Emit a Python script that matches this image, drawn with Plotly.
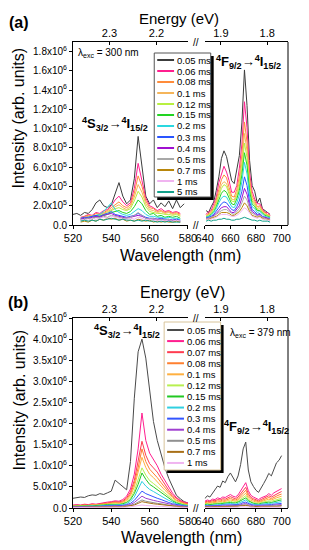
import plotly.graph_objects as go

# ---------------- data (intensities in units of 1e5 counts) ----------------
UNIT = 1e5
HC = 1239.84  # eV*nm, energy <-> wavelength

A_WL_LEFT = list(range(520, 579, 2))   # 520..578
A_WL_RIGHT = list(range(641, 692, 2))  # 641..691
B_WL_LEFT = list(range(520, 581, 2))   # 520..580
B_WL_RIGHT = list(range(640, 701, 2))  # 640..700

A_DELAYS = ["0.05 ms", "0.06 ms", "0.08 ms", "0.1 ms", "0.12 ms", "0.15 ms", "0.2 ms",
            "0.3 ms", "0.4 ms", "0.5 ms", "0.7 ms", "1 ms", "5 ms"]
B_DELAYS = ["0.05 ms", "0.06 ms", "0.07 ms", "0.08 ms", "0.1 ms", "0.12 ms", "0.15 ms",
            "0.2 ms", "0.3 ms", "0.4 ms", "0.5 ms", "0.7 ms", "1 ms"]

# panel (a), 4S3/2 -> 4I15/2 region
A_L_005 = [1.1, 1.2, 1.0, 1.3, 1.2, 1.6, 2.3, 2.6, 2.0, 1.8, 2.1, 3.3, 4.4, 3.0, 2.2, 2.6, 4.8, 9.2, 6.0, 3.0, 2.2, 2.6, 1.8, 2.3, 1.9, 2.5, 1.7, 2.6, 1.8, 2.2]
A_L_006 = [None, None, 0.8, 0.9, 1.1, 1.0, 1.3, 1.2, 1.5, 1.6, 2.0, 2.6, 3.0, 2.4, 2.0, 2.3, 3.8, 6.4, 4.6, 2.8, 2.0, 1.8, 1.5, 1.7, 1.4, 1.5, 1.3, 1.4, 1.2, None]
A_L_008 = [None, None, 0.7, 0.9, 1.0, 0.9, 1.2, 1.1, 1.3, 1.5, 1.8, 2.1, 2.4, 2.0, 1.8, 2.1, 3.3, 5.1, 4.0, 2.5, 1.8, 1.7, 1.4, 1.5, 1.3, 1.4, 1.2, 1.3, 1.1, None]
A_L_01 = [None, None, 0.7, 0.8, 0.9, 1.0, 1.0, 1.1, 1.2, 1.4, 1.6, 1.9, 2.1, 1.8, 1.6, 1.9, 2.9, 4.2, 3.4, 2.2, 1.6, 1.5, 1.3, 1.4, 1.2, 1.3, 1.1, 1.2, 1.0, None]
A_L_012 = [None, None, 0.6, 0.7, 0.8, 0.9, 0.9, 1.0, 1.1, 1.3, 1.5, 1.7, 1.8, 1.6, 1.5, 1.7, 2.5, 3.5, 2.9, 1.9, 1.4, 1.3, 1.2, 1.2, 1.1, 1.1, 1.0, 1.1, 0.9, None]
A_L_015 = [None, None, 0.5, 0.6, 0.7, 0.7, 0.8, 0.9, 1.0, 1.1, 1.3, 1.4, 1.5, 1.3, 1.2, 1.4, 1.9, 2.6, 2.2, 1.5, 1.1, 1.2, 0.9, 1.0, 0.8, 0.9, 0.8, 0.9, 0.7, None]
A_L_02 = [None, None, 0.6, 0.7, 0.8, 0.9, 1.0, 1.1, 1.4, 1.9, 2.3, 1.6, 1.3, 1.1, 1.0, 1.1, 1.4, 1.7, 1.5, 1.1, 0.9, 0.9, 0.8, 0.8, 0.7, 0.8, 0.7, 0.7, 0.6, None]
A_L_03 = [None, None, 0.7, 0.8, 0.8, 0.9, 1.0, 0.9, 1.1, 1.2, 1.4, 1.1, 1.0, 0.9, 0.8, 0.9, 1.0, 1.2, 1.0, 0.8, 0.7, 0.7, 0.6, 0.7, 0.6, 0.6, 0.5, 0.6, 0.5, None]
A_L_04 = [None, None, 0.6, 0.7, 0.7, 0.8, 0.9, 0.8, 1.0, 1.1, 1.2, 1.0, 0.9, 0.8, 0.7, 0.8, 0.9, 1.0, 0.9, 0.7, 0.6, 0.6, 0.6, 0.6, 0.5, 0.5, 0.5, 0.5, 0.4, None]
A_L_05 = [None, None, 0.5, 0.6, 0.7, 0.6, 0.8, 0.7, 0.9, 0.8, 1.0, 0.9, 0.8, 0.7, 0.7, 0.8, 1.0, 1.3, 1.0, 0.7, 0.6, 0.7, 0.5, 0.6, 0.5, 0.6, 0.4, 0.5, 0.4, None]
A_L_07 = [None, None, 0.3, 0.4, 0.3, 0.5, 0.4, 0.6, 0.5, 0.7, 0.6, 0.7, 0.5, 0.6, 0.4, 0.5, 0.4, 0.6, 0.5, 0.4, 0.5, 0.3, 0.4, 0.3, 0.4, 0.3, 0.3, 0.4, 0.3, None]
A_L_1 = [None, None, 0.5, 0.6, 0.5, 0.7, 0.6, 0.7, 0.8, 0.7, 0.9, 0.8, 0.7, 0.6, 0.6, 0.7, 0.6, 0.8, 0.7, 0.5, 0.6, 0.5, 0.5, 0.4, 0.5, 0.4, 0.4, 0.5, 0.4, None]
A_L_5 = [None, None, 0.4, 0.5, 0.4, 0.5, 0.4, 0.6, 0.5, 0.6, 0.7, 0.6, 0.5, 0.6, 0.5, 0.5, 0.4, 0.5, 0.4, 0.5, 0.4, 0.4, 0.3, 0.4, 0.3, 0.4, 0.3, 0.3, 0.3, None]

# panel (a), 4F9/2 -> 4I15/2 region
A_R_005 = [1.5, 1.3, 1.9, 2.4, 3.6, 5.0, 6.9, 7.7, 7.1, 5.8, 4.6, 4.3, 5.6, 7.2, 10.6, 16.1, 12.4, 6.7, 4.1, 3.5, 2.3, 2.8, 1.7, 1.5, 1.3, 1.1]
A_R_006 = [1.1, 1.4, 1.5, 2.2, 2.9, 4.4, 5.3, 6.1, 5.5, 4.6, 3.4, 3.4, 4.1, 5.9, 8.4, 12.8, 10.1, 5.4, 3.5, 2.7, 2.2, 2.2, 1.7, 1.3, 1.3, 1.0]
A_R_008 = [1.0, 1.2, 1.4, 1.8, 2.6, 3.7, 4.7, 5.2, 4.9, 3.9, 3.0, 2.9, 3.7, 5.0, 7.3, 10.7, 8.6, 4.8, 3.0, 2.5, 1.9, 2.0, 1.5, 1.3, 1.1, 1.0]
A_R_01 = [0.9, 1.1, 1.3, 1.7, 2.3, 3.3, 4.2, 4.5, 4.3, 3.5, 2.7, 2.6, 3.3, 4.5, 6.5, 9.5, 7.7, 4.3, 2.7, 2.3, 1.7, 1.9, 1.4, 1.2, 1.0, 0.9]
A_R_012 = [0.9, 1.0, 1.2, 1.6, 2.1, 3.0, 3.8, 4.2, 4.0, 3.2, 2.5, 2.4, 3.0, 4.0, 5.9, 8.5, 7.0, 3.9, 2.5, 2.1, 1.6, 1.7, 1.3, 1.1, 1.0, 0.9]
A_R_015 = [0.8, 0.9, 1.1, 1.4, 1.9, 2.6, 3.3, 3.6, 3.4, 2.8, 2.2, 2.1, 2.7, 3.6, 5.2, 7.5, 6.2, 3.5, 2.2, 1.9, 1.5, 1.5, 1.2, 1.0, 0.9, 0.8]
A_R_02 = [0.8, 0.9, 1.0, 1.3, 1.7, 2.3, 2.8, 3.0, 2.9, 2.4, 1.9, 1.8, 2.3, 3.1, 4.5, 6.5, 5.3, 3.0, 1.9, 1.7, 1.3, 1.4, 1.1, 0.9, 0.8, 0.8]
A_R_03 = [0.7, 0.8, 0.9, 1.1, 1.4, 1.8, 2.2, 2.4, 2.3, 1.9, 1.6, 1.5, 1.9, 2.5, 3.5, 5.0, 4.1, 2.4, 1.6, 1.4, 1.1, 1.2, 0.9, 0.8, 0.7, 0.7]
A_R_04 = [0.7, 0.7, 0.8, 1.0, 1.2, 1.5, 1.8, 1.9, 1.9, 1.6, 1.3, 1.3, 1.6, 2.0, 2.8, 3.8, 3.2, 2.0, 1.4, 1.2, 1.0, 1.1, 0.8, 0.8, 0.7, 0.6]
A_R_05 = [0.6, 0.7, 0.8, 0.9, 1.1, 1.3, 1.5, 1.6, 1.6, 1.4, 1.2, 1.1, 1.4, 1.7, 2.3, 3.0, 2.6, 1.7, 1.2, 1.1, 0.9, 1.0, 0.8, 0.7, 0.6, 0.6]
A_R_07 = [0.6, 0.6, 0.7, 0.8, 0.9, 1.1, 1.3, 1.3, 1.3, 1.2, 1.0, 1.0, 1.2, 1.4, 1.8, 2.3, 2.0, 1.4, 1.0, 0.9, 0.8, 0.9, 0.7, 0.6, 0.6, 0.5]
A_R_1 = [0.6, 0.6, 0.6, 0.7, 0.8, 1.0, 1.1, 1.1, 1.1, 1.0, 0.9, 0.9, 1.0, 1.2, 1.5, 1.8, 1.6, 1.2, 0.9, 0.8, 0.7, 0.8, 0.6, 0.6, 0.5, 0.5]
A_R_5 = [0.4, 0.5, 0.4, 0.5, 0.5, 0.6, 0.6, 0.7, 0.6, 0.6, 0.5, 0.5, 0.6, 0.6, 0.7, 0.8, 0.7, 0.6, 0.5, 0.5, 0.4, 0.5, 0.4, 0.4, 0.4, 0.3]

# panel (b), 4S3/2 -> 4I15/2 region
B_L_005 = [2.3, 2.4, 2.6, 2.5, 2.9, 3.1, 3.0, 3.4, 3.2, 3.6, 4.0, 6.6, 5.8, 5.2, 4.3, 11.0, 26.0, 37.0, 40.0, 35.5, 27.5, 20.5, 16.0, 12.5, 9.5, 7.0, 5.0, 3.0, 2.2, 1.5, 1.2]
B_L_006 = [0.7, 0.8, 0.7, 0.9, 0.8, 1.0, 0.9, 1.1, 1.2, 1.4, 1.5, 1.7, 1.6, 2.0, 2.8, 4.5, 8.0, 14.0, 22.5, 16.0, 13.0, 11.5, 10.0, 8.0, 6.5, 5.0, 3.5, 2.5, 1.8, 1.4, 1.2]
B_L_007 = [0.6, 0.7, 0.6, 0.8, 0.7, 0.9, 0.8, 1.0, 1.1, 1.2, 1.3, 1.5, 1.4, 1.7, 2.4, 3.8, 6.5, 11.0, 15.8, 12.5, 10.5, 9.5, 8.5, 7.0, 5.5, 4.2, 3.0, 2.2, 1.6, 1.2, 1.0]
B_L_008 = [0.5, 0.6, 0.6, 0.7, 0.6, 0.8, 0.7, 0.9, 1.0, 1.1, 1.2, 1.3, 1.2, 1.5, 2.1, 3.3, 5.8, 9.5, 14.0, 11.0, 9.2, 8.3, 7.2, 6.0, 4.8, 3.7, 2.7, 1.9, 1.4, 1.1, 0.9]
B_L_01 = [0.5, 0.5, 0.6, 0.6, 0.6, 0.7, 0.7, 0.8, 0.9, 1.0, 1.1, 1.2, 1.1, 1.3, 1.8, 2.9, 5.0, 8.2, 12.0, 9.6, 8.0, 7.2, 6.3, 5.2, 4.2, 3.2, 2.4, 1.7, 1.3, 1.0, 0.8]
B_L_012 = [0.4, 0.5, 0.5, 0.5, 0.6, 0.6, 0.6, 0.7, 0.8, 0.9, 1.0, 1.0, 0.9, 1.1, 1.5, 2.3, 4.0, 6.5, 9.5, 7.8, 6.5, 5.8, 5.0, 4.2, 3.4, 2.6, 2.0, 1.4, 1.1, 0.8, 0.7]
B_L_015 = [0.4, 0.4, 0.4, 0.5, 0.5, 0.5, 0.6, 0.6, 0.7, 0.8, 0.8, 0.9, 0.8, 1.0, 1.3, 2.0, 3.4, 5.6, 8.3, 6.8, 5.6, 5.0, 4.3, 3.6, 2.9, 2.2, 1.7, 1.2, 0.9, 0.7, 0.6]
B_L_02 = [0.3, 0.4, 0.3, 0.4, 0.4, 0.5, 0.4, 0.5, 0.6, 0.6, 0.7, 0.7, 0.7, 0.8, 1.0, 1.6, 2.6, 4.3, 6.3, 5.2, 4.4, 3.9, 3.3, 2.8, 2.3, 1.8, 1.4, 1.0, 0.8, 0.6, 0.5]
B_L_03 = [0.3, 0.3, 0.3, 0.3, 0.4, 0.4, 0.4, 0.4, 0.5, 0.5, 0.5, 0.6, 0.5, 0.6, 0.8, 1.1, 1.8, 2.9, 4.0, 3.4, 3.0, 2.7, 2.3, 2.0, 1.6, 1.3, 1.0, 0.8, 0.6, 0.5, 0.4]
B_L_04 = [0.2, 0.3, 0.2, 0.3, 0.3, 0.3, 0.3, 0.4, 0.3, 0.4, 0.4, 0.5, 0.4, 0.5, 0.6, 0.8, 1.3, 2.0, 2.8, 2.3, 2.0, 1.8, 1.6, 1.4, 1.1, 0.9, 0.7, 0.6, 0.5, 0.4, 0.3]
B_L_05 = [0.2, 0.2, 0.2, 0.2, 0.3, 0.2, 0.3, 0.3, 0.3, 0.3, 0.3, 0.4, 0.3, 0.4, 0.5, 0.6, 0.9, 1.4, 1.9, 1.6, 1.4, 1.3, 1.1, 1.0, 0.8, 0.6, 0.5, 0.4, 0.3, 0.3, 0.2]
B_L_07 = [0.1, 0.2, 0.1, 0.2, 0.2, 0.2, 0.2, 0.2, 0.2, 0.3, 0.2, 0.3, 0.3, 0.3, 0.4, 0.5, 0.7, 1.1, 1.5, 1.3, 1.1, 1.0, 0.9, 0.8, 0.6, 0.5, 0.4, 0.3, 0.3, 0.2, 0.2]
B_L_1 = [0.1, 0.1, 0.1, 0.1, 0.1, 0.1, 0.1, 0.2, 0.1, 0.2, 0.2, 0.2, 0.2, 0.2, 0.2, 0.3, 0.4, 0.5, 0.7, 0.6, 0.5, 0.5, 0.4, 0.4, 0.3, 0.3, 0.2, 0.2, 0.2, 0.1, 0.1]

# panel (b), 4F9/2 -> 4I15/2 region
B_R_005 = [2.2, 2.9, 2.6, 3.5, 4.4, 5.2, 4.9, 6.4, 6.0, 7.4, 8.3, 7.1, 6.2, 7.6, 10.3, 14.0, 15.6, 9.0, 6.2, 5.1, 4.2, 3.7, 4.9, 5.8, 6.9, 8.2, 7.6, 9.4, 10.7, 11.3, 12.4]
B_R_006 = [1.6, 1.9, 1.7, 2.1, 2.0, 2.4, 2.2, 2.6, 2.5, 2.9, 3.2, 2.8, 2.6, 3.1, 4.0, 5.2, 6.0, 4.1, 3.0, 2.6, 2.2, 2.0, 2.4, 2.7, 2.9, 3.4, 3.0, 3.6, 3.9, 4.3, 4.6]
B_R_007 = [1.4, 1.6, 1.5, 1.8, 1.7, 2.0, 1.9, 2.2, 2.1, 2.5, 2.7, 2.4, 2.2, 2.6, 3.4, 4.3, 4.9, 3.4, 2.5, 2.2, 1.9, 1.7, 2.0, 2.3, 2.5, 2.9, 2.6, 3.0, 3.3, 3.6, 3.9]
B_R_008 = [1.2, 1.4, 1.3, 1.5, 1.5, 1.7, 1.6, 1.9, 1.8, 2.1, 2.3, 2.0, 1.9, 2.2, 2.9, 3.7, 4.2, 2.9, 2.2, 1.9, 1.6, 1.5, 1.7, 2.0, 2.1, 2.5, 2.2, 2.6, 2.8, 3.1, 3.3]
B_R_01 = [1.0, 1.2, 1.1, 1.3, 1.3, 1.4, 1.4, 1.6, 1.5, 1.8, 1.9, 1.7, 1.6, 1.9, 2.4, 3.1, 3.5, 2.4, 1.8, 1.6, 1.4, 1.3, 1.5, 1.7, 1.8, 2.1, 1.9, 2.2, 2.4, 2.6, 2.8]
B_R_012 = [0.9, 1.0, 0.9, 1.1, 1.1, 1.2, 1.2, 1.3, 1.3, 1.5, 1.6, 1.4, 1.4, 1.6, 2.0, 2.5, 2.9, 2.0, 1.5, 1.3, 1.2, 1.1, 1.3, 1.4, 1.5, 1.7, 1.6, 1.8, 2.0, 2.1, 2.3]
B_R_015 = [0.8, 0.9, 0.8, 0.9, 1.0, 1.0, 1.0, 1.1, 1.1, 1.3, 1.3, 1.2, 1.2, 1.4, 1.7, 2.1, 2.4, 1.7, 1.3, 1.1, 1.0, 0.9, 1.1, 1.2, 1.3, 1.4, 1.3, 1.5, 1.7, 1.8, 1.9]
B_R_02 = [0.6, 0.7, 0.6, 0.7, 0.8, 0.8, 0.8, 0.9, 0.9, 1.0, 1.1, 1.0, 0.9, 1.1, 1.4, 1.7, 1.9, 1.4, 1.0, 0.9, 0.8, 0.8, 0.9, 1.0, 1.0, 1.1, 1.1, 1.2, 1.3, 1.4, 1.5]
B_R_03 = [0.5, 0.5, 0.5, 0.6, 0.6, 0.6, 0.6, 0.7, 0.7, 0.8, 0.8, 0.7, 0.7, 0.8, 1.0, 1.3, 1.4, 1.0, 0.8, 0.7, 0.6, 0.6, 0.7, 0.7, 0.8, 0.8, 0.8, 0.9, 1.0, 1.0, 1.1]
B_R_04 = [0.4, 0.4, 0.4, 0.4, 0.5, 0.5, 0.5, 0.5, 0.5, 0.6, 0.6, 0.6, 0.5, 0.6, 0.8, 1.0, 1.1, 0.8, 0.6, 0.5, 0.5, 0.5, 0.5, 0.6, 0.6, 0.6, 0.6, 0.7, 0.7, 0.8, 0.8]
B_R_05 = [0.3, 0.3, 0.3, 0.3, 0.4, 0.4, 0.4, 0.4, 0.4, 0.4, 0.5, 0.4, 0.4, 0.5, 0.6, 0.7, 0.8, 0.6, 0.4, 0.4, 0.4, 0.3, 0.4, 0.4, 0.5, 0.5, 0.4, 0.5, 0.5, 0.6, 0.6]
B_R_07 = [0.2, 0.3, 0.2, 0.3, 0.3, 0.3, 0.3, 0.3, 0.3, 0.4, 0.4, 0.3, 0.3, 0.4, 0.5, 0.6, 0.6, 0.5, 0.3, 0.3, 0.3, 0.3, 0.3, 0.3, 0.4, 0.4, 0.3, 0.4, 0.4, 0.4, 0.5]
B_R_1 = [0.1, 0.1, 0.1, 0.1, 0.2, 0.1, 0.2, 0.2, 0.2, 0.2, 0.2, 0.2, 0.2, 0.2, 0.3, 0.3, 0.3, 0.2, 0.2, 0.2, 0.1, 0.2, 0.2, 0.2, 0.2, 0.2, 0.2, 0.2, 0.2, 0.2, 0.2]

A_LEFT = [A_L_005, A_L_006, A_L_008, A_L_01, A_L_012, A_L_015, A_L_02, A_L_03, A_L_04, A_L_05, A_L_07, A_L_1, A_L_5]
A_RIGHT = [A_R_005, A_R_006, A_R_008, A_R_01, A_R_012, A_R_015, A_R_02, A_R_03, A_R_04, A_R_05, A_R_07, A_R_1, A_R_5]
B_LEFT = [B_L_005, B_L_006, B_L_007, B_L_008, B_L_01, B_L_012, B_L_015, B_L_02, B_L_03, B_L_04, B_L_05, B_L_07, B_L_1]
B_RIGHT = [B_R_005, B_R_006, B_R_007, B_R_008, B_R_01, B_R_012, B_R_015, B_R_02, B_R_03, B_R_04, B_R_05, B_R_07, B_R_1]

ENERGY_LEFT = [2.3, 2.2]
ENERGY_RIGHT = [1.9, 1.8]
X_TICKS_LEFT = [520, 540, 560, 580]
X_TICKS_RIGHT = [640, 660, 680, 700]
A_Y_TICKS = [0, 2e5, 4e5, 6e5, 8e5, 1.0e6, 1.2e6, 1.4e6, 1.6e6, 1.8e6]
A_Y_LABELS = ["0.0", "2.0x10<sup>5</sup>", "4.0x10<sup>5</sup>", "6.0x10<sup>5</sup>", "8.0x10<sup>5</sup>",
              "1.0x10<sup>6</sup>", "1.2x10<sup>6</sup>", "1.4x10<sup>6</sup>", "1.6x10<sup>6</sup>", "1.8x10<sup>6</sup>"]
B_Y_TICKS = [0, 5e5, 1.0e6, 1.5e6, 2.0e6, 2.5e6, 3.0e6, 3.5e6, 4.0e6, 4.5e6]
B_Y_LABELS = ["0.0", "5.0x10<sup>5</sup>", "1.0x10<sup>6</sup>", "1.5x10<sup>6</sup>", "2.0x10<sup>6</sup>",
              "2.5x10<sup>6</sup>", "3.0x10<sup>6</sup>", "3.5x10<sup>6</sup>", "4.0x10<sup>6</sup>", "4.5x10<sup>6</sup>"]

# ---------------- styles ----------------
A_COLORS = ["#3c3c3c", "#ff1f8f", "#ff8c3a", "#f5b55a", "#b8f040", "#22d422", "#2ad8e0",
            "#2a55ff", "#a010d0", "#a8a8a8", "#b8860b", "#f0b4f0", "#13a08a"]
B_COLORS = ["#4a4a4a", "#ff1f8f", "#ff3c50", "#ff8030", "#ffb040", "#b8f050", "#22c822",
            "#30d0e0", "#3355ff", "#a040d0", "#909090", "#a87018", "#f0b4f0"]

FONT = "Liberation Sans, Arial, sans-serif"

# page geometry (the html body adds an 8 px margin around the figure)
PAGE_W, PAGE_H = 309, 550
BODY = 8
PLOT_L, PLOT_R, PLOT_T, PLOT_B = 73, 290, 42, 508   # plot box in page pixels
FIG_W, FIG_H = PAGE_W - BODY, PAGE_H - BODY
ML, MT = PLOT_L - BODY, PLOT_T - BODY
MR, MB = PAGE_W - PLOT_R, PAGE_H - PLOT_B
PW = PLOT_R - PLOT_L
PH = PLOT_B - PLOT_T


def px(x):
    return (x - PLOT_L) / PW


def py(y):
    return (PLOT_B - y) / PH


XL_DOM = [0, px(189)]
XR_DOM = [px(206), 1]
YA_DOM = [py(225), 1]
YB_DOM = [0, py(318)]

fig = go.Figure()


def add_line(wl, vals, color, xa, ya):
    fig.add_trace(go.Scatter(
        x=wl, y=[None if v is None else v * UNIT for v in vals],
        mode="lines", line=dict(color=color, width=1),
        xaxis=xa, yaxis=ya, showlegend=False, hoverinfo="skip", connectgaps=False))


for vals, c in zip(A_LEFT, A_COLORS):
    add_line(A_WL_LEFT, vals, c, "x", "y")
for vals, c in zip(A_RIGHT, A_COLORS):
    add_line(A_WL_RIGHT, vals, c, "x2", "y")
for vals, c in zip(B_LEFT, B_COLORS):
    add_line(B_WL_LEFT, vals, c, "x5", "y2")
for vals, c in zip(B_RIGHT, B_COLORS):
    add_line(B_WL_RIGHT, vals, c, "x6", "y2")

# placeholder traces so the top (energy) axes are drawn
for xa, ya in [("x3", "y"), ("x4", "y"), ("x7", "y2"), ("x8", "y2")]:
    fig.add_trace(go.Scatter(x=[None], y=[None], xaxis=xa, yaxis=ya, mode="lines",
                             showlegend=False, hoverinfo="skip"))

ax_common = dict(showline=True, linecolor="black", linewidth=1, ticks="outside", ticklen=3,
                 tickcolor="black", showgrid=False, zeroline=False,
                 tickfont=dict(family=FONT, size=11, color="black"), fixedrange=True)


def bottom_axis(dom, rng, ticks, anchor):
    return dict(ax_common, domain=dom, range=rng, tickvals=ticks, anchor=anchor, autorange=False)


def top_axis(dom, rng, energies, over, anchor):
    return dict(ax_common, domain=dom, range=rng, overlaying=over, side="top", anchor=anchor,
                ticks="inside",
                tickvals=[HC / e for e in energies], ticktext=[str(e) for e in energies],
                autorange=False)


def y_axis(dom, rng, ticks, labels, anchor):
    return dict(ax_common, domain=dom, range=rng, tickvals=ticks, ticktext=labels, anchor=anchor,
                tickfont=dict(family=FONT, size=10, color="black"), autorange=False)


RANGE_L = [520, 580]
RANGE_R = [640, 705]

layout = dict(
    width=FIG_W, height=FIG_H, margin=dict(l=ML, r=MR, t=MT, b=MB),
    paper_bgcolor="white", plot_bgcolor="white", showlegend=False,
    font=dict(family=FONT, color="black"),
    xaxis=bottom_axis(XL_DOM, RANGE_L, X_TICKS_LEFT, "y"),
    xaxis2=bottom_axis(XR_DOM, RANGE_R, X_TICKS_RIGHT, "y"),
    xaxis3=top_axis(XL_DOM, RANGE_L, ENERGY_LEFT, "x", "y"),
    xaxis4=top_axis(XR_DOM, RANGE_R, ENERGY_RIGHT, "x2", "y"),
    xaxis5=bottom_axis(XL_DOM, RANGE_L, X_TICKS_LEFT, "y2"),
    xaxis6=bottom_axis(XR_DOM, RANGE_R, X_TICKS_RIGHT, "y2"),
    xaxis7=top_axis(XL_DOM, RANGE_L, ENERGY_LEFT, "x5", "y2"),
    xaxis8=top_axis(XR_DOM, RANGE_R, ENERGY_RIGHT, "x6", "y2"),
    yaxis=y_axis(YA_DOM, [0, 1.9e6], A_Y_TICKS, A_Y_LABELS, "x"),
    yaxis2=y_axis(YB_DOM, [0, 4.5e6], B_Y_TICKS, B_Y_LABELS, "x5"),
)

shapes = []
annotations = []

# right frame borders of the right-hand segments
for dom in (YA_DOM, YB_DOM):
    shapes.append(dict(type="line", xref="paper", yref="paper", x0=1, x1=1, y0=dom[0], y1=dom[1],
                       line=dict(color="black", width=1), layer="above"))

# axis-break marks
for yy in (225, 42, 508, 318):
    annotations.append(dict(text="//", xref="paper", yref="paper", x=px(197.5), y=py(yy),
                            showarrow=False, font=dict(family=FONT, size=10, color="black"),
                            xanchor="center", yanchor="middle"))


def txt(text, x, y, size, xanchor="center", yanchor="middle", angle=0):
    annotations.append(dict(text=text, xref="paper", yref="paper", x=px(x), y=py(y),
                            showarrow=False, xanchor=xanchor, yanchor=yanchor, textangle=angle,
                            font=dict(family=FONT, size=size, color="black")))


# panel labels and axis titles
txt("<b>(a)</b>", 6, 23, 16, xanchor="left")
txt("<b>(b)</b>", 5, 302, 16, xanchor="left")
txt("Energy (eV)", 180, 8, 15, yanchor="top")
txt("Energy (eV)", 184, 292, 16)
txt("Wavelength (nm)", 181, 255, 16)
txt("Wavelength (nm)", 183, 537, 16)
txt("Intensity (arb. units)", 18, 118, 16, angle=-90)
txt("Intensity (arb. units)", 18, 400, 16, angle=-90)

# in-plot labels
TRANS_S = "<b><sup>4</sup>S<sub>3/2</sub>\u2192<sup>4</sup>I<sub>15/2</sub></b>"
TRANS_F = "<b><sup>4</sup>F<sub>9/2</sub>\u2192<sup>4</sup>I<sub>15/2</sub></b>"
txt("\u03bb<sub>exc</sub> = 300 nm", 76, 53, 10, xanchor="left")
txt(TRANS_S, 115, 124, 13)
txt(TRANS_F, 285, 62, 13, xanchor="right")
txt("\u03bb<sub>exc</sub> = 379 nm", 229, 333, 10, xanchor="left")
txt(TRANS_S, 127, 331, 13)
txt(TRANS_F, 293, 427, 13, xanchor="right")


# hand-drawn legends (shadowed boxes)
def legend(x0, y0, x1, y1, border, labels, colors, first_y, step):
    shapes.append(dict(type="rect", xref="paper", yref="paper", x0=px(x0 + 3), x1=px(x1 + 3),
                       y0=py(y1 + 3), y1=py(y0 + 3), fillcolor="black",
                       line=dict(color="black", width=0), layer="above"))
    shapes.append(dict(type="rect", xref="paper", yref="paper", x0=px(x0), x1=px(x1),
                       y0=py(y1), y1=py(y0), fillcolor="white",
                       line=dict(color=border, width=1), layer="above"))
    for i, (lab, c) in enumerate(zip(labels, colors)):
        yy = first_y + step * i
        shapes.append(dict(type="line", xref="paper", yref="paper", x0=px(x0 + 3), x1=px(x0 + 20),
                           y0=py(yy), y1=py(yy), line=dict(color=c, width=2), layer="above"))
        txt(lab, x0 + 21, yy, 9.5, xanchor="left")


legend(155, 53, 212, 197, "#555555", A_DELAYS, A_COLORS, 60, 11.0)
legend(165, 322, 222, 470, "#d8c49a", B_DELAYS, B_COLORS, 330, 11.08)

layout["shapes"] = shapes
layout["annotations"] = annotations
fig.update_layout(**layout)

fig.write_html("out.html")
